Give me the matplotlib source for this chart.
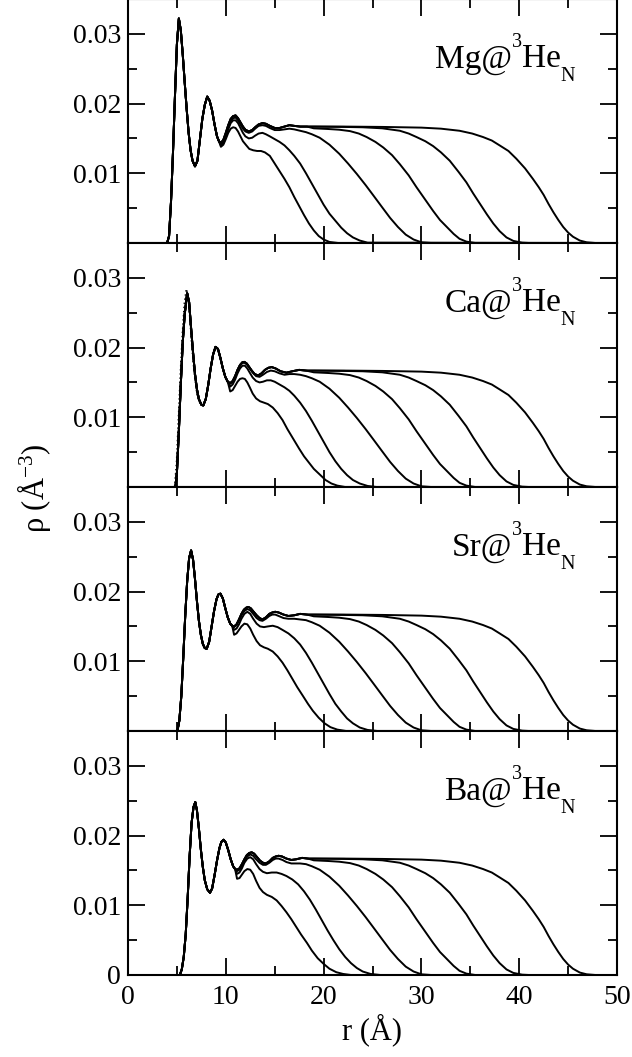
import numpy as np
import matplotlib
matplotlib.use("Agg")
import matplotlib.pyplot as plt
import matplotlib.transforms as mtransforms
from matplotlib.ticker import MultipleLocator, FixedLocator, FuncFormatter

plt.rcParams['font.family'] = ['Liberation Serif', 'DejaVu Serif']
plt.rcParams['mathtext.fontset'] = 'custom'
plt.rcParams['mathtext.rm'] = 'Liberation Serif'
plt.rcParams['mathtext.it'] = 'Liberation Serif:italic'

# ---------------- data: (r [Å], rho [1e-3 Å^-3]) ----------------
# Mg
MG_CORE = [(0, 0), (4.0, 0), (4.2, 1.0), (4.4, 6.0), (4.6, 13.0), (4.8, 21.0), (5.0, 28.5), (5.2, 32.2),
           (5.4, 30.5), (5.6, 27.0), (5.8, 23.0), (6.0, 19.2), (6.2, 15.8), (6.4, 13.3), (6.6, 11.8),
           (6.85, 11.0), (7.1, 11.8), (7.35, 14.8), (7.6, 17.8), (7.85, 19.8), (8.1, 21.0), (8.35, 20.4),
           (8.6, 19.0), (8.85, 17.0), (9.1, 15.3), (9.3, 14.6)]
MG_SHELL = [(9.5, 14.35), (9.75, 14.8), (10.0, 15.8), (10.25, 16.9), (10.5, 17.8), (10.75, 18.2), (11.0, 18.3),
            (11.25, 17.9), (11.5, 17.3), (11.75, 16.7), (12.0, 16.25), (12.35, 16.0), (12.7, 16.2), (13.0, 16.6),
            (13.35, 17.0), (13.75, 17.2), (14.1, 17.1), (14.5, 16.8), (15.0, 16.5), (15.5, 16.5), (16.0, 16.7),
            (16.5, 16.9), (17.0, 16.8), (17.6, 16.7), (18.3, 16.7)]
MG_N1 = [(9.5, 13.8), (9.75, 14.1), (10.0, 14.9), (10.25, 15.8), (10.5, 16.4), (10.75, 16.6), (11.0, 16.5),
         (11.25, 16.0), (11.5, 15.3), (11.75, 14.6), (12.1, 14.0), (12.4, 13.5), (12.8, 13.3), (13.2, 13.2),
         (13.6, 13.2), (14.0, 13.0), (14.5, 12.5), (15.0, 11.4), (15.5, 10.3), (16.0, 9.2), (16.5, 8.0),
         (17.0, 6.6), (17.5, 5.3), (18.0, 4.0), (18.5, 2.8), (19.0, 1.8), (19.5, 1.0), (20.0, 0.5),
         (20.6, 0.15), (21.5, 0.0), (50, 0)]
MG_N2 = [(9.5, 14.0), (9.75, 14.3), (10.0, 15.2), (10.25, 16.3), (10.5, 17.2), (10.75, 17.6), (11.0, 17.6),
         (11.25, 17.2), (11.5, 16.5), (11.75, 15.8), (12.0, 15.3), (12.35, 15.0), (12.7, 15.1), (13.0, 15.4),
         (13.35, 15.7), (13.75, 15.8), (14.1, 15.6), (14.5, 15.3), (15.0, 14.9), (15.5, 14.5), (16.0, 14.0),
         (16.5, 13.3), (17.0, 12.5), (17.6, 11.4), (18.2, 10.0), (18.8, 8.5), (19.4, 7.0), (20.0, 5.5),
         (20.6, 4.2), (21.2, 3.2), (21.8, 2.2), (22.4, 1.4), (23.0, 0.8), (23.7, 0.35), (24.5, 0.05), (50, 0)]
MG_N3 = [(9.5, 14.2), (9.75, 14.6), (10.0, 15.5), (10.25, 16.6), (10.5, 17.5), (10.75, 17.9), (11.0, 18.0),
         (11.25, 17.6), (11.5, 17.0), (11.75, 16.4), (12.0, 16.0), (12.35, 15.8), (12.7, 16.0), (13.0, 16.4),
         (13.35, 16.8), (13.75, 16.9), (14.1, 16.8), (14.5, 16.5), (15.0, 16.2), (15.5, 16.2), (16.0, 16.3),
         (16.5, 16.4), (17.0, 16.3), (17.6, 16.1)]

# Ca
CA_CORE = [(0, 0), (4.85, 0), (5.0, 2.0), (5.2, 8.0), (5.4, 14.8), (5.6, 20.8), (5.8, 24.8), (6.05, 27.8),
           (6.25, 26.5), (6.45, 22.8), (6.65, 19.3), (6.85, 16.2), (7.05, 14.0), (7.25, 12.6), (7.5, 11.8),
           (7.7, 11.7), (7.95, 12.6), (8.2, 14.6), (8.45, 17.0), (8.7, 19.0), (8.95, 20.1), (9.2, 19.8),
           (9.45, 18.5), (9.7, 17.0), (9.95, 15.8), (10.2, 15.1)]
CA_DOT = [(4.75, 0), (4.95, 3.5), (5.15, 10.0), (5.35, 16.5), (5.55, 22.0), (5.75, 26.3), (5.95, 28.4),
          (6.1, 27.9), (6.3, 24.5), (6.5, 20.5), (6.75, 16.5), (7.05, 13.2), (7.4, 11.8), (7.7, 11.6)]
CA_SHELL = [(10.45, 14.9), (10.7, 15.2), (10.95, 15.9), (11.2, 16.8), (11.45, 17.5), (11.7, 17.9),
            (11.9, 17.95), (12.15, 17.7), (12.4, 17.2), (12.65, 16.7), (12.95, 16.2), (13.3, 16.0),
            (13.65, 16.3), (14.0, 16.8), (14.35, 17.1), (14.7, 17.2), (15.1, 17.0), (15.6, 16.6),
            (16.2, 16.4), (16.8, 16.6), (17.5, 16.8), (18.2, 16.7)]
CA_N1 = [(10.45, 13.7), (10.7, 13.9), (10.95, 14.5), (11.2, 15.1), (11.45, 15.5), (11.7, 15.6), (11.95, 15.5),
         (12.2, 15.0), (12.45, 14.3), (12.75, 13.4), (13.1, 12.7), (13.5, 12.3), (13.9, 12.1), (14.3, 11.9),
         (14.8, 11.4), (15.3, 10.6), (15.8, 9.6), (16.3, 8.3), (16.9, 6.9), (17.5, 5.5), (18.0, 4.4),
         (18.5, 3.5), (19.0, 2.6), (19.6, 1.8), (20.2, 1.0), (20.8, 0.5), (21.4, 0.2), (22.2, 0.0), (50, 0)]
CA_N2 = [(10.45, 14.4), (10.7, 14.7), (10.95, 15.4), (11.2, 16.3), (11.45, 17.0), (11.7, 17.4), (11.95, 17.4),
         (12.2, 17.0), (12.45, 16.4), (12.75, 15.7), (13.1, 15.2), (13.45, 15.0), (13.8, 15.1), (14.2, 15.3),
         (14.6, 15.3), (15.0, 15.1), (15.5, 14.7), (16.0, 14.3), (16.5, 13.8), (17.0, 13.1), (17.6, 12.1),
         (18.2, 10.9), (18.8, 9.5), (19.4, 8.0), (20.0, 6.5), (20.6, 5.0), (21.2, 3.7), (21.8, 2.6),
         (22.4, 1.7), (23.0, 1.0), (23.7, 0.5), (24.5, 0.15), (25.4, 0.0), (50, 0)]
CA_N3 = [(10.45, 14.8), (10.7, 15.1), (10.95, 15.8), (11.2, 16.7), (11.45, 17.4), (11.7, 17.8), (11.95, 17.8),
         (12.2, 17.5), (12.45, 17.0), (12.75, 16.4), (13.1, 15.9), (13.45, 15.8), (13.8, 16.1), (14.2, 16.5),
         (14.6, 16.7), (15.0, 16.6), (15.5, 16.3), (16.0, 16.1), (16.5, 16.2), (17.0, 16.2), (17.6, 16.1)]

# Sr
SR_CORE = [(0, 0), (5.05, 0), (5.25, 1.5), (5.45, 5.0), (5.65, 10.5), (5.85, 16.5), (6.05, 21.5), (6.25, 24.8),
           (6.45, 25.9), (6.65, 24.6), (6.85, 21.8), (7.05, 18.6), (7.25, 15.8), (7.45, 13.8), (7.65, 12.5),
           (7.85, 11.9), (8.05, 11.8), (8.3, 12.8), (8.55, 15.0), (8.8, 17.2), (9.05, 18.9), (9.25, 19.6),
           (9.45, 19.7), (9.7, 19.0), (9.95, 17.6), (10.2, 16.3), (10.45, 15.4), (10.65, 15.1)]
SR_SHELL = [(10.85, 15.0), (11.1, 15.3), (11.35, 16.0), (11.6, 16.8), (11.85, 17.4), (12.1, 17.7),
            (12.3, 17.8), (12.55, 17.6), (12.85, 17.1), (13.15, 16.6), (13.45, 16.2), (13.75, 16.0),
            (14.1, 16.3), (14.45, 16.8), (14.75, 17.0), (15.05, 17.1), (15.4, 17.0), (15.9, 16.7),
            (16.4, 16.5), (17.0, 16.6), (17.6, 16.8), (18.3, 16.7)]
SR_N1 = [(10.85, 13.8), (11.1, 14.0), (11.35, 14.5), (11.6, 15.0), (11.9, 15.4), (12.2, 15.3), (12.5, 14.7),
         (12.8, 13.8), (13.15, 12.9), (13.5, 12.3), (13.9, 12.0), (14.3, 11.8), (14.8, 11.4), (15.3, 10.7),
         (15.8, 9.8), (16.3, 8.7), (16.8, 7.5), (17.3, 6.3), (17.9, 5.0), (18.4, 3.9), (18.9, 2.9),
         (19.5, 1.9), (20.1, 1.1), (20.7, 0.55), (21.4, 0.2), (22.3, 0.0), (50, 0)]
SR_N2 = [(10.85, 14.5), (11.1, 14.7), (11.35, 15.3), (11.6, 16.1), (11.9, 16.8), (12.2, 17.1), (12.5, 16.8),
         (12.8, 16.1), (13.15, 15.4), (13.5, 15.0), (13.9, 14.9), (14.3, 15.0), (14.8, 15.1), (15.3, 14.9),
         (15.8, 14.5), (16.4, 14.0), (17.0, 13.3), (17.6, 12.4), (18.2, 11.2), (18.8, 9.8), (19.4, 8.3),
         (20.0, 6.8), (20.6, 5.3), (21.2, 3.9), (21.8, 2.8), (22.4, 1.8), (23.0, 1.1), (23.7, 0.5),
         (24.5, 0.15), (25.5, 0.0), (50, 0)]
SR_N3 = [(10.85, 14.9), (11.1, 15.2), (11.35, 15.9), (11.6, 16.6), (11.9, 17.2), (12.2, 17.5), (12.5, 17.3),
         (12.8, 16.8), (13.15, 16.2), (13.45, 15.9), (13.75, 15.8), (14.1, 16.1), (14.45, 16.5), (14.75, 16.7),
         (15.05, 16.7), (15.4, 16.5), (15.9, 16.2), (16.4, 16.1), (17.0, 16.1), (17.6, 16.0)]

# Ba
BA_CORE = [(0, 0), (5.3, 0), (5.5, 0.8), (5.7, 2.6), (5.9, 5.8), (6.1, 11.0), (6.3, 17.0), (6.5, 21.8),
           (6.7, 24.1), (6.88, 24.8), (7.05, 23.6), (7.25, 21.0), (7.45, 18.0), (7.65, 15.5), (7.85, 13.6),
           (8.1, 12.3), (8.38, 11.8), (8.6, 12.4), (8.85, 14.3), (9.1, 16.4), (9.35, 18.2), (9.55, 19.1),
           (9.78, 19.4), (10.0, 19.0), (10.25, 17.9), (10.5, 16.6), (10.75, 15.6), (10.95, 15.2)]
BA_SHELL = [(11.15, 15.1), (11.4, 15.3), (11.65, 15.9), (11.9, 16.6), (12.15, 17.2), (12.4, 17.5),
            (12.65, 17.6), (12.9, 17.4), (13.2, 16.9), (13.5, 16.4), (13.8, 16.1), (14.1, 16.0),
            (14.45, 16.3), (14.8, 16.8), (15.1, 17.0), (15.4, 17.1), (15.75, 17.0), (16.2, 16.7),
            (16.7, 16.5), (17.2, 16.6), (17.8, 16.8), (18.4, 16.7)]
BA_N1 = [(11.15, 13.8), (11.4, 13.9), (11.65, 14.4), (11.9, 14.9), (12.2, 15.2), (12.5, 15.1), (12.8, 14.5),
         (13.1, 13.5), (13.45, 12.5), (13.8, 11.9), (14.2, 11.5), (14.7, 11.2), (15.2, 10.7), (15.7, 9.9),
         (16.2, 9.0), (16.7, 8.0), (17.2, 6.9), (17.7, 5.8), (18.3, 4.6), (18.8, 3.5), (19.4, 2.4),
         (20.0, 1.6), (20.6, 0.9), (21.3, 0.4), (22.0, 0.15), (22.8, 0.0), (50, 0)]
BA_N2 = [(11.15, 14.5), (11.4, 14.7), (11.65, 15.3), (11.9, 16.1), (12.2, 16.7), (12.5, 16.9), (12.8, 16.6),
         (13.1, 15.9), (13.45, 15.2), (13.8, 14.8), (14.2, 14.6), (14.7, 14.7), (15.2, 14.7), (15.7, 14.5),
         (16.2, 14.2), (16.8, 13.7), (17.4, 13.0), (18.0, 12.0), (18.6, 10.8), (19.2, 9.4), (19.8, 7.9),
         (20.4, 6.4), (21.0, 5.0), (21.6, 3.7), (22.2, 2.6), (22.8, 1.7), (23.4, 1.0), (24.0, 0.5),
         (24.8, 0.15), (25.8, 0.0), (50, 0)]
BA_N3 = [(11.15, 14.9), (11.4, 15.1), (11.65, 15.7), (11.9, 16.4), (12.2, 17.0), (12.5, 17.3), (12.8, 17.1),
         (13.1, 16.6), (13.45, 16.1), (13.8, 15.8), (14.1, 15.8), (14.45, 16.1), (14.8, 16.5), (15.1, 16.7),
         (15.4, 16.7), (15.8, 16.5), (16.2, 16.2), (16.7, 16.0), (17.2, 16.0), (17.6, 16.0)]

# outer parts of the larger drops (same in all four panels)
N3_TAIL = [(18.2, 15.9), (18.8, 15.6), (19.6, 15.1), (20.6, 14.1), (21.6, 12.8), (22.5, 11.4), (23.4, 9.9),
           (24.3, 8.3), (25.1, 6.8), (26.0, 5.1), (26.8, 3.6), (27.6, 2.3), (28.4, 1.2), (29.2, 0.5),
           (30.0, 0.1), (31.0, 0.0), (50, 0)]
N4_TAIL = [(19.0, 16.45), (20.5, 16.35), (21.6, 16.25), (22.7, 16.05), (23.6, 15.7), (24.4, 15.2), (25.3, 14.5),
           (26.1, 13.7), (27.0, 12.6), (27.8, 11.3), (28.7, 9.7), (29.5, 8.0), (30.4, 6.2), (31.2, 4.6),
           (31.9, 3.3), (32.6, 2.3), (33.3, 1.3), (33.9, 0.6), (34.6, 0.2), (35.5, 0.0), (50, 0)]
N5_TAIL = [(19.0, 16.7), (22.0, 16.65), (24.0, 16.6), (26.0, 16.45), (27.8, 16.1), (28.7, 15.7), (29.5, 15.2),
           (30.4, 14.6), (31.2, 13.9), (32.0, 13.0), (32.9, 11.8), (33.8, 10.2), (34.6, 8.7), (35.3, 7.1),
           (36.0, 5.6), (36.7, 4.1), (37.35, 2.8), (38.0, 1.7), (38.7, 0.8), (39.4, 0.3), (40.3, 0.05),
           (41.0, 0.0), (50, 0)]
N6_TAIL = [(19.0, 16.7), (22.0, 16.7), (26.0, 16.65), (30.0, 16.55), (32.0, 16.4), (33.9, 16.1), (35.2, 15.7),
           (36.3, 15.2), (37.2, 14.7), (38.0, 14.0), (38.9, 13.2), (39.7, 12.1), (40.6, 10.7), (41.4, 9.2),
           (42.0, 8.0), (42.5, 6.9), (43.0, 5.6), (43.5, 4.4), (44.0, 3.3), (44.5, 2.3), (45.0, 1.5),
           (45.5, 0.9), (46.2, 0.35), (46.9, 0.1), (47.8, 0.0), (50, 0)]

ATOMS = ["Mg", "Ca", "Sr", "Ba"]
PANELS = [
    (MG_CORE, MG_SHELL, MG_N1, MG_N2, MG_N3),
    (CA_CORE, CA_SHELL, CA_N1, CA_N2, CA_N3),
    (SR_CORE, SR_SHELL, SR_N1, SR_N2, SR_N3),
    (BA_CORE, BA_SHELL, BA_N1, BA_N2, BA_N3),
]
X_TICKS = [0, 10, 20, 30, 40, 50]
Y_TICKS = [0.0, 0.01, 0.02, 0.03]

# ---------------- figure ----------------
W, H = 632, 1057
fig, axes = plt.subplots(4, 1, sharex=True, figsize=(W / 100, H / 100), dpi=100)
fig.subplots_adjust(left=128 / W, right=617 / W, bottom=1 - 975 / H, top=1 + 1.0 / H, hspace=0)
renderer = fig.canvas.get_renderer()
ident = mtransforms.IdentityTransform()


def chem_label(ax, atom, xfrac=0.915, yfrac=0.72):
    """Mg@^3He_N built from pieces: (text, size, baseline shift in px)."""
    pieces = [(atom + '@', 24, 0), ('3', 14.5, 20), ('He', 24, 0), ('N', 14.5, -14)]
    x_r, y_b = ax.transAxes.transform((xfrac, yfrac))
    widths = []
    for s, size, _ in pieces:
        t = fig.text(0, 0, s, fontsize=size, transform=ident)
        widths.append(t.get_window_extent(renderer=renderer).width)
        t.remove()
    x = x_r - sum(widths)
    for (s, size, dy), w in zip(pieces, widths):
        fig.text(x, y_b + dy, s, fontsize=size, transform=ident, ha='left', va='baseline')
        x += w


LW = 1.4
for i, (ax, atom, parts) in enumerate(zip(axes, ATOMS, PANELS)):
    core, shell, n1, n2, n3 = parts
    curves = [core + n1, core + n2, core + n3 + N3_TAIL,
              core + shell + N4_TAIL, core + shell + N5_TAIL, core + shell + N6_TAIL]
    for c in curves:
        arr = np.array(c, dtype=float)
        ax.plot(arr[:, 0], arr[:, 1] * 1e-3, color='k', lw=LW, solid_joinstyle='round')
    if atom == "Ca":
        arr = np.array(CA_DOT, dtype=float)
        ax.plot(arr[:, 0], arr[:, 1] * 1e-3, color='k', lw=1.0, ls=(0, (1, 2)))

    ax.set_xlim(0, 50)
    ax.set_ylim(0, 0.035)
    ax.xaxis.set_major_locator(FixedLocator(X_TICKS))
    ax.xaxis.set_minor_locator(MultipleLocator(5))
    ax.yaxis.set_major_locator(FixedLocator(Y_TICKS))
    ax.yaxis.set_minor_locator(MultipleLocator(0.005))
    last = (i == len(axes) - 1)

    def yfmt(v, pos, last=last):
        if abs(v) < 1e-9:
            return '0' if last else ''
        return f'{v:.2f}'
    ax.yaxis.set_major_formatter(FuncFormatter(yfmt))
    ax.tick_params(which='both', direction='in', top=True, right=True, width=1.3, labelsize=20)
    ax.tick_params(which='major', length=12)
    ax.tick_params(which='minor', length=6.5)
    ax.tick_params(axis='y', pad=5)
    ax.tick_params(axis='x', pad=7)
    for sp in ax.spines.values():
        sp.set_linewidth(1.5)

    chem_label(ax, atom)

fig.text(34 / W, 1 - 488 / H, 'ρ (Å$^{-3}$)', rotation=90, ha='center', va='center', fontsize=22)
fig.text(372 / W, 1 - 1030 / H, 'r (Å)', ha='center', va='center', fontsize=22)

fig.savefig('out.png', dpi=100)
